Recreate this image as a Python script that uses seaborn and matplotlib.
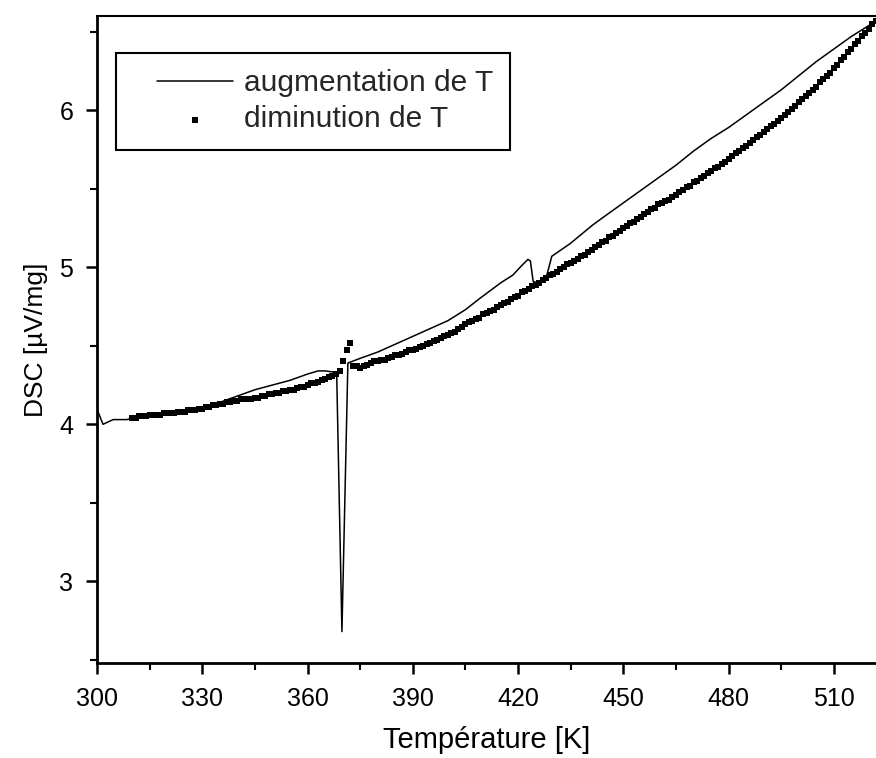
"""
DSC curve: heating vs cooling
"""

import numpy as np
import pandas as pd
import matplotlib
matplotlib.use("Agg")
import matplotlib.pyplot as plt
from matplotlib.patches import Rectangle
from matplotlib.ticker import MultipleLocator
import seaborn as sns

# heating run (solid line)
temp_up = [300.3, 301.7, 304.6, 308.5, 312, 316, 320, 325, 330, 335,
           340, 345, 350, 355, 360, 363, 365, 368.3, 369.8, 371.5,
           375, 380, 385, 390, 395, 400, 405, 409, 412, 415,
           418.5, 421, 422.8, 423.5, 424.3, 425.5, 428.2, 429.6, 434.8, 441.3,
           445, 450, 455, 460, 465, 470, 475, 480, 485, 490,
           495, 500, 505, 510, 515, 520, 522]
dsc_up = [4.08, 4.00, 4.03, 4.03, 4.05, 4.06, 4.07, 4.09, 4.11, 4.14,
          4.18, 4.22, 4.25, 4.28, 4.32, 4.34, 4.34, 4.33, 2.68, 4.39,
          4.42, 4.46, 4.51, 4.56, 4.61, 4.66, 4.73, 4.80, 4.85, 4.90,
          4.95, 5.01, 5.05, 5.04, 4.91, 4.90, 4.95, 5.07, 5.15, 5.27,
          5.33, 5.41, 5.49, 5.57, 5.65, 5.74, 5.82, 5.89, 5.97, 6.05,
          6.13, 6.22, 6.31, 6.39, 6.47, 6.54, 6.57]

# cooling run (square dots)
temp_down = [310, 311, 312, 313, 314, 315, 316, 317, 318, 319,
             320, 321, 322, 323, 324, 325, 326, 327, 328, 329,
             330, 331, 332, 333, 334, 335, 336, 337, 338, 339,
             340, 341, 342, 343, 344, 345, 346, 347, 348, 349,
             350, 351, 352, 353, 354, 355, 356, 357, 358, 359,
             360, 361, 362, 363, 364, 365, 366, 367, 368, 369.3,
             370.2, 371.2, 372.1, 373, 374, 375, 376, 377, 378, 379,
             380, 381, 382, 383, 384, 385, 386, 387, 388, 389,
             390, 391, 392, 393, 394, 395, 396, 397, 398, 399,
             400, 401, 402, 403, 404, 405, 406, 407, 408, 409,
             410, 411, 412, 413, 414, 415, 416, 417, 418, 419,
             420, 421, 422, 423, 424, 425, 426, 427, 428, 429,
             430, 431, 432, 433, 434, 435, 436, 437, 438, 439,
             440, 441, 442, 443, 444, 445, 446, 447, 448, 449,
             450, 451, 452, 453, 454, 455, 456, 457, 458, 459,
             460, 461, 462, 463, 464, 465, 466, 467, 468, 469,
             470, 471, 472, 473, 474, 475, 476, 477, 478, 479,
             480, 481, 482, 483, 484, 485, 486, 487, 488, 489,
             490, 491, 492, 493, 494, 495, 496, 497, 498, 499,
             500, 501, 502, 503, 504, 505, 506, 507, 508, 509,
             510, 511, 512, 513, 514, 515, 516, 517, 518, 519,
             520, 521, 522]
dsc_down = [4.04, 4.04, 4.05, 4.05, 4.05, 4.06, 4.06, 4.06, 4.06, 4.07,
            4.07, 4.07, 4.07, 4.08, 4.08, 4.08, 4.09, 4.09, 4.09, 4.10,
            4.10, 4.11, 4.11, 4.12, 4.12, 4.13, 4.13, 4.14, 4.14, 4.15,
            4.15, 4.16, 4.16, 4.16, 4.16, 4.17, 4.17, 4.18, 4.18, 4.19,
            4.19, 4.20, 4.20, 4.21, 4.21, 4.22, 4.22, 4.23, 4.24, 4.24,
            4.25, 4.26, 4.26, 4.27, 4.28, 4.29, 4.30, 4.31, 4.32, 4.34,
            4.40, 4.47, 4.52, 4.37, 4.37, 4.36, 4.37, 4.38, 4.39, 4.40,
            4.40, 4.41, 4.41, 4.42, 4.43, 4.44, 4.44, 4.45, 4.46, 4.47,
            4.47, 4.48, 4.49, 4.50, 4.51, 4.52, 4.53, 4.54, 4.55, 4.56,
            4.57, 4.58, 4.59, 4.61, 4.62, 4.64, 4.65, 4.66, 4.67, 4.68,
            4.70, 4.71, 4.72, 4.73, 4.75, 4.76, 4.77, 4.78, 4.80, 4.81,
            4.82, 4.84, 4.85, 4.86, 4.88, 4.89, 4.90, 4.92, 4.93, 4.95,
            4.96, 4.97, 4.99, 5.00, 5.02, 5.03, 5.04, 5.05, 5.07, 5.08,
            5.10, 5.11, 5.13, 5.14, 5.16, 5.17, 5.19, 5.20, 5.22, 5.23,
            5.25, 5.26, 5.28, 5.29, 5.31, 5.32, 5.34, 5.35, 5.37, 5.38,
            5.40, 5.41, 5.42, 5.43, 5.45, 5.46, 5.48, 5.49, 5.51, 5.52,
            5.54, 5.55, 5.57, 5.58, 5.60, 5.61, 5.63, 5.64, 5.66, 5.67,
            5.69, 5.71, 5.73, 5.74, 5.76, 5.77, 5.79, 5.81, 5.83, 5.84,
            5.86, 5.88, 5.90, 5.91, 5.93, 5.95, 5.97, 5.99, 6.01, 6.03,
            6.05, 6.07, 6.09, 6.11, 6.13, 6.15, 6.18, 6.20, 6.22, 6.24,
            6.27, 6.29, 6.32, 6.34, 6.37, 6.39, 6.42, 6.44, 6.47, 6.49,
            6.52, 6.55, 6.57]

x_ticks = [300, 330, 360, 390, 420, 450, 480, 510]
y_ticks = [3, 4, 5, 6]

sns.set_theme(style="ticks")
plt.rcParams['font.family'] = ['Liberation Sans', 'DejaVu Sans']

up = pd.DataFrame({'T': temp_up, 'DSC': dsc_up})
down = pd.DataFrame({'T': temp_down, 'DSC': dsc_down})

fig = plt.figure(figsize=(8.76, 7.58), dpi=100)
ax = fig.add_axes([97 / 876, 95 / 758, 779 / 876, 647 / 758])

sns.lineplot(data=up, x='T', y='DSC', ax=ax, color='black', linewidth=1.1,
             estimator=None, sort=False, label='augmentation de T')
sns.scatterplot(data=down, x='T', y='DSC', ax=ax, color='black', marker='s',
                s=20, linewidth=0, label='diminution de T')

ax.set_xlim(300, 522)
ax.set_ylim(2.48, 6.60)
ax.set_xticks(x_ticks)
ax.set_yticks(y_ticks)
ax.xaxis.set_minor_locator(MultipleLocator(15))
ax.yaxis.set_minor_locator(MultipleLocator(0.5))
ax.tick_params(axis='both', which='major', direction='out', length=8, width=1.8,
               labelsize=18, color='black', labelcolor='black')
ax.tick_params(axis='both', which='minor', direction='out', length=5, width=1.5,
               color='black')
ax.tick_params(axis='x', pad=9)
ax.tick_params(axis='y', pad=9)

for side in ['left', 'bottom']:
    ax.spines[side].set_linewidth(2.0)
    ax.spines[side].set_color('black')
ax.spines['top'].set_visible(True)
ax.spines['top'].set_linewidth(1.5)
ax.spines['top'].set_color('black')
ax.spines['right'].set_visible(False)

ax.set_xlabel('Température [K]', fontsize=21, labelpad=11, color='black')
ax.set_ylabel('DSC [µV/mg]', fontsize=19, labelpad=8, color='black')

# legend entries without frame, frame drawn as a box around them
leg = ax.legend(loc='upper left', bbox_to_anchor=(0.077, 0.918), fontsize=21.5,
                frameon=False, handlelength=2.55, handletextpad=0.35,
                borderpad=0, labelspacing=0.28, borderaxespad=0,
                markerscale=1.1)
frame = Rectangle((0.0244, 0.793), 0.506, 0.150, transform=ax.transAxes,
                  facecolor='white', edgecolor='black', linewidth=1.5,
                  zorder=4)
ax.add_patch(frame)
leg.set_zorder(5)

fig.savefig('out.png', dpi=100)
